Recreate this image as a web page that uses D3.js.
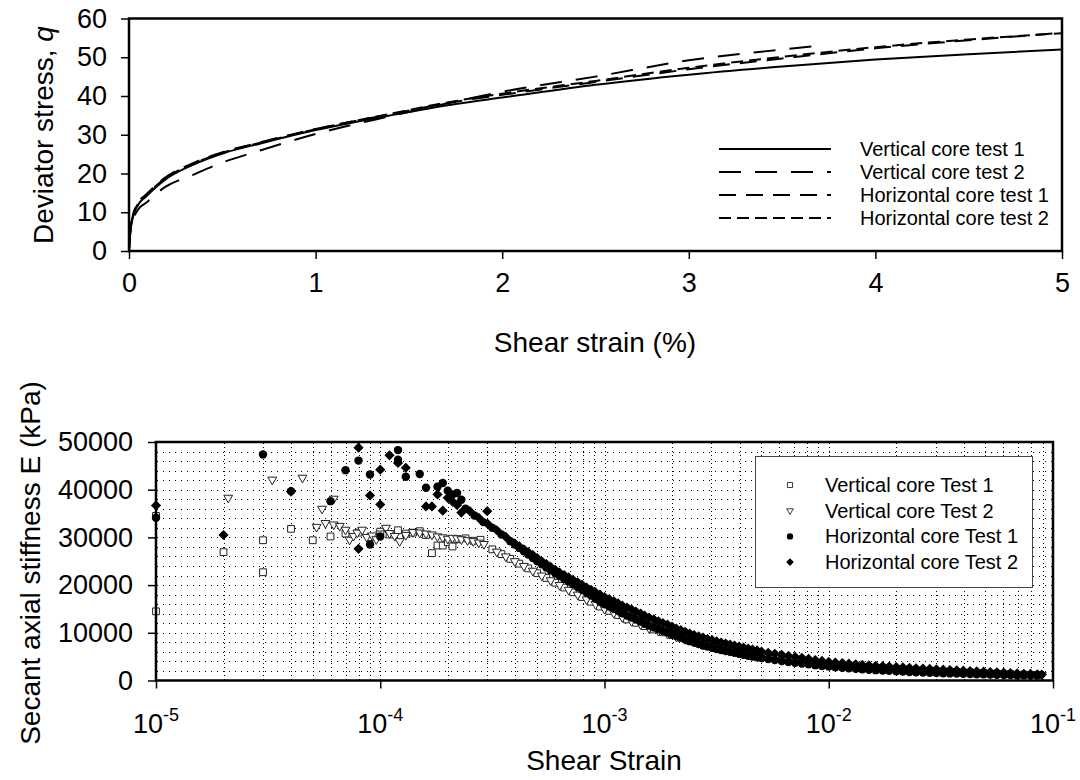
<!DOCTYPE html>
<html>
<head>
<meta charset="utf-8">
<script src="https://cdn.jsdelivr.net/npm/d3@7"></script>
<style>
  body { margin: 0; background: #fff; }
  svg { font-family: "Liberation Sans", Arial, sans-serif; }
</style>
</head>
<body>
<div id="chart"></div>
<script>
// ---------- top chart data: deviator stress q vs shear strain (%)
const topStrain = [0, 0.005, 0.02, 0.05, 0.09, 0.19, 0.34, 0.51, 0.7, 1.0, 1.4, 1.76, 2.0, 2.5, 3.0, 3.5, 4.0, 4.5, 5.0];
const v1Q = [0, 4, 8.5, 12, 14, 18.3, 22.2, 25.3, 27.7, 31.2, 35, 38, 39.6, 42.9, 45.5, 47.6, 49.4, 50.8, 52];
const h1Q = [0, 4.5, 9, 12.5, 14.5, 18.8, 22.6, 25.6, 28, 31.5, 35.3, 38.6, 40.3, 43.6, 46.9, 49.7, 52.3, 54.4, 56.3];
const h2Q = [0, 4.2, 8.8, 12.3, 14.3, 18.6, 22.4, 25.5, 27.9, 31.4, 35.4, 38.8, 40.6, 43.9, 47.3, 50.1, 52.6, 54.6, 56.2];
const v2Strain = [0, 0.005, 0.02, 0.05, 0.09, 0.19, 0.34, 0.51, 0.7, 1.0, 1.4, 1.76, 2.0, 2.5, 3.0, 3.5, 3.7];
const v2Q = [0, 3.5, 7.5, 10.8, 12.4, 16.4, 19.6, 23, 25.9, 30.2, 34.8, 38.7, 41.1, 45, 49.2, 52, 53];
const topNames = ["Vertical core test 1", "Vertical core test 2", "Horizontal core test 1", "Horizontal core test 2"];
const topTicksY = [0, 10, 20, 30, 40, 50, 60];
const topTicksX = [0, 1, 2, 3, 4, 5];

// ---------- bottom chart data: secant stiffness E (kPa) vs shear strain
const vt1Strain = [1e-5, 1e-5, 2e-5, 3e-5, 3e-5, 4e-5, 5e-5, 6e-5, 7e-5, 8e-5, 9e-5, 1e-4, 1.1e-4, 1.2e-4, 1.3e-4, 1.4e-4, 1.5e-4, 1.6e-4, 1.7e-4, 1.8e-4, 1.9e-4, 2.0e-4, 2.1e-4, 2.2e-4, 2.4e-4, 2.6e-4, 2.8e-4,
  3.16e-4, 3.47e-4, 3.80e-4, 4.17e-4, 4.57e-4, 5.01e-4, 5.50e-4, 6.03e-4, 6.61e-4, 7.24e-4, 7.94e-4, 8.71e-4, 9.55e-4, 1.05e-3, 1.15e-3, 1.26e-3, 1.38e-3, 1.51e-3, 1.66e-3, 1.82e-3, 2.00e-3, 2.19e-3, 2.40e-3, 2.63e-3, 2.88e-3, 3.16e-3, 3.47e-3, 3.80e-3, 4.17e-3, 4.57e-3, 5.01e-3,
  5.37e-3, 6.17e-3, 7.08e-3, 8.13e-3, 9.33e-3, 1.07e-2, 1.23e-2, 1.41e-2, 1.62e-2, 1.86e-2, 2.14e-2, 2.45e-2, 2.82e-2, 3.24e-2, 3.72e-2, 4.27e-2, 4.90e-2, 5.62e-2, 6.46e-2, 7.41e-2, 8.51e-2];
const vt1E = [14500, 34500, 26900, 29400, 22700, 31800, 29400, 30200, 30800, 31000, 30000, 31200, 30600, 31500, 30800, 31000, 31300, 30500, 26700, 28300, 28300, 29000, 28100, 29600, 29800, 29300, 29500,
  27500, 26500, 25500, 24500, 23500, 22500, 21500, 20500, 19500, 18500, 17500, 16500, 15500, 14600, 13700, 12800, 12100, 11400, 10700, 10100, 9500, 8950, 8400, 7850, 7350, 6900, 6500, 6150, 5800, 5500, 5200,
  5000, 4570, 4200, 3840, 3480, 3200, 2990, 2780, 2570, 2430, 2270, 2120, 2000, 1880, 1760, 1650, 1550, 1450, 1330, 1240, 1150];

const vt2Strain = [2.1e-5, 3.3e-5, 4.5e-5, 5.2e-5, 5.5e-5, 5.7e-5, 6.2e-5, 6.2e-5, 6.6e-5, 7.0e-5, 7.3e-5, 7.6e-5, 7.9e-5, 8.3e-5, 8.7e-5, 9.2e-5, 9.6e-5, 1.0e-4, 1.06e-4, 1.1e-4, 1.16e-4, 1.22e-4, 1.3e-4, 1.4e-4, 1.5e-4, 1.6e-4, 1.7e-4, 1.8e-4, 1.9e-4, 2.0e-4, 2.1e-4, 2.2e-4, 2.3e-4, 2.45e-4, 2.6e-4, 2.75e-4, 2.9e-4,
  3.31e-4, 3.63e-4, 3.98e-4, 4.37e-4, 4.79e-4, 5.25e-4, 5.75e-4, 6.31e-4, 6.92e-4, 7.59e-4, 8.32e-4, 9.12e-4, 1.00e-3, 1.10e-3, 1.20e-3, 1.32e-3, 1.45e-3, 1.58e-3, 1.74e-3, 1.91e-3, 2.09e-3, 2.29e-3, 2.51e-3, 2.75e-3, 3.02e-3, 3.31e-3, 3.63e-3, 3.98e-3, 4.37e-3, 4.79e-3,
  5.75e-3, 6.61e-3, 7.59e-3, 8.71e-3, 1.00e-2, 1.15e-2, 1.32e-2, 1.51e-2, 1.74e-2, 2.00e-2, 2.29e-2, 2.63e-2, 3.02e-2, 3.47e-2, 3.98e-2, 4.57e-2, 5.25e-2, 6.03e-2, 6.92e-2, 7.94e-2, 8.91e-2];
const vt2E = [38300, 42100, 42500, 32200, 36000, 33000, 38100, 32700, 32400, 31600, 29500, 30300, 31000, 31600, 30100, 30400, 29600, 30800, 32000, 30900, 30300, 29200, 30500, 31100, 31000, 30800, 30600, 30200, 30000, 29700, 29900, 29800, 29600, 29400, 29200, 28900, 28600,
  27000, 26000, 25000, 24000, 23000, 22000, 21000, 20000, 19000, 18000, 17000, 16000, 15000, 14150, 13250, 12450, 11750, 11000, 10400, 9800, 9200, 8650, 8100, 7600, 7150, 6700, 6300, 5950, 5650, 5350,
  4700, 4350, 4000, 3650, 3300, 3090, 2880, 2670, 2500, 2350, 2200, 2050, 1940, 1820, 1700, 1600, 1500, 1380, 1280, 1200, 1150];

const ht1Strain = [1e-5, 3e-5, 4e-5, 6e-5, 7e-5, 8e-5, 9e-5, 9e-5, 1e-4, 1.2e-4, 1.2e-4, 1.3e-4, 1.5e-4, 1.6e-4, 1.8e-4, 1.9e-4, 2.0e-4, 2.1e-4, 2.2e-4, 2.3e-4,
  2.40e-4, 2.63e-4, 2.88e-4, 3.16e-4, 3.47e-4, 3.80e-4, 4.17e-4, 4.57e-4, 5.01e-4, 5.50e-4, 6.03e-4, 6.61e-4, 7.24e-4, 7.94e-4, 8.71e-4, 9.55e-4, 1.05e-3, 1.15e-3, 1.26e-3, 1.38e-3, 1.51e-3, 1.66e-3, 1.82e-3, 2.00e-3, 2.19e-3, 2.40e-3, 2.63e-3, 2.88e-3, 3.16e-3, 3.47e-3, 3.80e-3, 4.17e-3, 4.57e-3, 5.01e-3,
  3.98e-4, 4.37e-4, 4.79e-4, 5.25e-4, 5.75e-4, 6.31e-4, 6.92e-4, 7.59e-4, 8.32e-4, 9.12e-4, 1.00e-3, 1.10e-3, 1.20e-3, 1.32e-3, 1.45e-3, 1.58e-3, 1.74e-3, 1.91e-3, 2.09e-3, 2.29e-3, 2.51e-3, 2.75e-3, 3.02e-3, 3.31e-3, 3.63e-3, 3.98e-3, 4.37e-3, 4.79e-3,
  5.37e-3, 5.75e-3, 6.17e-3, 6.61e-3, 7.08e-3, 7.59e-3, 8.13e-3, 8.71e-3, 9.33e-3, 1.00e-2, 1.07e-2, 1.15e-2, 1.23e-2, 1.32e-2, 1.41e-2, 1.51e-2, 1.62e-2, 1.74e-2, 1.86e-2, 2.00e-2, 2.14e-2, 2.29e-2, 2.45e-2, 2.63e-2, 2.82e-2,
  3.02e-2, 3.24e-2, 3.47e-2, 3.72e-2, 3.98e-2, 4.27e-2, 4.57e-2, 4.90e-2, 5.25e-2, 5.62e-2, 6.03e-2, 6.46e-2, 6.92e-2, 7.41e-2, 7.94e-2, 8.51e-2];
const ht1E = [34100, 47400, 39700, 37600, 44100, 46100, 43200, 28500, 30200, 48300, 46300, 42700, 43300, 40400, 40600, 41400, 39800, 39000, 39300, 37900,
  36000, 34600, 33200, 32000, 30600, 29200, 27800, 26400, 25000, 23700, 22500, 21300, 20200, 19000, 17800, 16500, 15500, 14600, 13600, 12800, 11900, 11100, 10400, 9700, 9000, 8250, 7650, 7100, 6600, 6200, 5800, 5400, 5050, 4700,
  28500, 27100, 25700, 24350, 23100, 21900, 20750, 19600, 18400, 17150, 16000, 15050, 14100, 13200, 12350, 11500, 10750, 10050, 9350, 8600, 7950, 7350, 6850, 6400, 6000, 5600, 5200, 4870,
  4500, 4280, 4070, 3890, 3720, 3560, 3400, 3220, 3050, 2920, 2800, 2690, 2580, 2470, 2370, 2270, 2170, 2090, 2020, 1940, 1870, 1790, 1720, 1670, 1630,
  1580, 1530, 1490, 1450, 1400, 1360, 1320, 1290, 1250, 1210, 1170, 1140, 1120, 1100, 1080, 1060];

const ht2Strain = [1e-5, 2e-5, 4e-5, 8e-5, 8e-5, 9e-5, 1e-4, 1e-4, 1.1e-4, 1.2e-4, 1.3e-4, 1.6e-4, 1.7e-4, 1.8e-4, 1.9e-4, 2.0e-4, 2.1e-4, 2.2e-4, 2.3e-4, 3.0e-4,
  2.51e-4, 2.75e-4, 3.02e-4, 3.31e-4, 3.63e-4, 3.98e-4, 4.37e-4, 4.79e-4, 5.25e-4, 5.75e-4, 6.31e-4, 6.92e-4, 7.59e-4, 8.32e-4, 9.12e-4, 1.00e-3, 1.10e-3, 1.20e-3, 1.32e-3, 1.45e-3, 1.58e-3, 1.74e-3, 1.91e-3, 2.09e-3, 2.29e-3, 2.51e-3, 2.75e-3, 3.02e-3, 3.31e-3, 3.63e-3, 3.98e-3, 4.37e-3, 4.79e-3,
  4.17e-4, 4.57e-4, 5.01e-4, 5.50e-4, 6.03e-4, 6.61e-4, 7.24e-4, 7.94e-4, 8.71e-4, 9.55e-4, 1.05e-3, 1.15e-3, 1.26e-3, 1.38e-3, 1.51e-3, 1.66e-3, 1.82e-3, 2.00e-3, 2.19e-3, 2.40e-3, 2.63e-3, 2.88e-3, 3.16e-3, 3.47e-3, 3.80e-3, 4.17e-3, 4.57e-3, 5.01e-3,
  5.37e-3, 5.75e-3, 6.17e-3, 6.61e-3, 7.08e-3, 7.59e-3, 8.13e-3, 8.71e-3, 9.33e-3, 1.00e-2, 1.07e-2, 1.15e-2, 1.23e-2, 1.32e-2, 1.41e-2, 1.51e-2, 1.62e-2, 1.74e-2, 1.86e-2, 2.00e-2, 2.14e-2, 2.29e-2, 2.45e-2, 2.63e-2, 2.82e-2,
  3.02e-2, 3.24e-2, 3.47e-2, 3.72e-2, 3.98e-2, 4.27e-2, 4.57e-2, 4.90e-2, 5.25e-2, 5.62e-2, 6.03e-2, 6.46e-2, 6.92e-2, 7.41e-2, 7.94e-2, 8.51e-2, 8.91e-2];
const ht2E = [36700, 30500, 39600, 48800, 27600, 38800, 36900, 44200, 47200, 45600, 44600, 36500, 36500, 39000, 35600, 38300, 37500, 36800, 35200, 35500,
  35500, 34100, 32800, 31500, 30100, 28700, 27500, 26300, 25000, 23800, 22600, 21600, 20600, 19500, 18500, 17500, 16600, 15700, 14900, 14000, 13200, 12400, 11700, 10900, 10200, 9500, 9000, 8450, 7950, 7550, 7100, 6700, 6300,
  28100, 26900, 25650, 24400, 23200, 22100, 21100, 20050, 19000, 18000, 17050, 16150, 15300, 14450, 13600, 12800, 12050, 11300, 10550, 9850, 9250, 8700, 8200, 7750, 7300, 6900, 6500, 6050,
  5800, 5600, 5380, 5150, 4950, 4750, 4520, 4300, 4100, 3900, 3770, 3650, 3520, 3400, 3290, 3180, 3090, 3000, 2910, 2830, 2740, 2650, 2570, 2500, 2420,
  2350, 2270, 2200, 2120, 2050, 1980, 1920, 1850, 1780, 1710, 1650, 1560, 1480, 1420, 1370, 1300, 1250];

const botNames = ["Vertical core Test 1", "Vertical core Test 2", "Horizontal core Test 1", "Horizontal core Test 2"];
const botTicksY = [0, 10000, 20000, 30000, 40000, 50000];
const botDecades = [1e-5, 1e-4, 1e-3, 1e-2, 1e-1];

const width = 1080, height = 780;
const svg = d3.select("#chart").append("svg")
  .attr("width", width)
  .attr("height", height);

//----- top chart
const xTop = d3.scaleLinear().domain([0, 5]).range([129, 1062]);
const yTop = d3.scaleLinear().domain([0, 60]).range([251, 18.5]);

svg.append("clipPath").attr("id", "clipTop")
  .append("rect").attr("x", 129).attr("y", 18.5).attr("width", 933).attr("height", 232.5);

const topSeries = [
  { name: topNames[0], xs: topStrain, ys: v1Q, dash: null },
  { name: topNames[1], xs: v2Strain, ys: v2Q, dash: "22,14" },
  { name: topNames[2], xs: topStrain, ys: h1Q, dash: "17,10" },
  { name: topNames[3], xs: topStrain, ys: h2Q, dash: "12,6" }
];

const line = d3.line()
  .x(d => xTop(d[0]))
  .y(d => yTop(d[1]))
  .curve(d3.curveMonotoneX);

svg.append("g").attr("clip-path", "url(#clipTop)")
  .selectAll("path")
  .data(topSeries)
  .join("path")
  .attr("d", s => line(s.xs.map((x, i) => [x, s.ys[i]])))
  .attr("fill", "none")
  .attr("stroke", "#000")
  .attr("stroke-width", 2)
  .attr("stroke-dasharray", s => s.dash);

const yAxisTop = svg.append("g")
  .attr("transform", "translate(129,0)")
  .call(d3.axisLeft(yTop).tickValues(topTicksY).tickSize(8).tickPadding(14));
const xAxisTop = svg.append("g")
  .attr("transform", "translate(0,251)")
  .call(d3.axisBottom(xTop).tickValues(topTicksX).tickSize(8).tickPadding(14).tickFormat(d3.format("d")));

[yAxisTop, xAxisTop].forEach(g => {
  g.select(".domain").remove();
  g.selectAll("line").attr("stroke", "#000").attr("stroke-width", 1.5);
  g.selectAll("text").attr("font-size", 27).attr("fill", "#000")
    .attr("font-family", "'Liberation Sans', Arial, sans-serif");
});

svg.append("rect")
  .attr("x", 129).attr("y", 18.5).attr("width", 933).attr("height", 232.5)
  .attr("fill", "none").attr("stroke", "#000").attr("stroke-width", 2.5);

// axis titles
const yTitleTop = svg.append("text")
  .attr("transform", "translate(43,135) rotate(-90)")
  .attr("text-anchor", "middle")
  .attr("dominant-baseline", "central")
  .attr("font-size", 28);
yTitleTop.append("tspan").text("Deviator stress, ");
yTitleTop.append("tspan").attr("font-style", "italic").text("q");

svg.append("text")
  .attr("x", 595).attr("y", 352)
  .attr("text-anchor", "middle")
  .attr("font-size", 28)
  .text("Shear strain (%)");

// top legend
const legTop = svg.append("g");
topSeries.forEach((s, i) => {
  const y = 149 + i * 23;
  legTop.append("line")
    .attr("x1", 719).attr("x2", 831).attr("y1", y).attr("y2", y)
    .attr("stroke", "#000").attr("stroke-width", 1.8)
    .attr("stroke-dasharray", s.dash);
  legTop.append("text")
    .attr("x", 860).attr("y", y)
    .attr("dominant-baseline", "central")
    .attr("font-size", 20)
    .text(s.name);
});

//----- bottom chart
const xBot = d3.scaleLog().domain([1e-5, 1e-1]).range([156, 1053]);
const yBot = d3.scaleLinear().domain([0, 50000]).range([680.5, 442]);

// dotted grid
const grid = svg.append("g").attr("shape-rendering", "crispEdges");
grid.selectAll("line.h")
  .data(d3.range(2000, 50000, 2000))
  .join("line")
  .attr("class", "h")
  .attr("x1", 157).attr("x2", 1052)
  .attr("y1", d => Math.round(yBot(d)) + 0.5)
  .attr("y2", d => Math.round(yBot(d)) + 0.5)
  .attr("stroke", "#000").attr("stroke-width", 1)
  .attr("stroke-dasharray", "1,5");
grid.selectAll("line.v")
  .data(xBot.ticks().filter(d => d > 1.01e-5 && d < 0.099))
  .join("line")
  .attr("class", "v")
  .attr("y1", 443).attr("y2", 680)
  .attr("x1", d => Math.round(xBot(d)) + 0.5)
  .attr("x2", d => Math.round(xBot(d)) + 0.5)
  .attr("stroke", "#000").attr("stroke-width", 1)
  .attr("stroke-dasharray", "1,3");

const symSquare = d3.symbol().type(d3.symbolSquare).size(46)();
const symTri = d3.symbol().type(d3.symbolTriangle).size(34)();
const symCircle = d3.symbol().type(d3.symbolCircle).size(56)();
const symDiamond = d3.symbol().type(d3.symbolSquare).size(52)();

const botSeries = [
  { name: botNames[0], xs: vt1Strain, ys: vt1E, path: symSquare, rot: 0, fill: "#fff", stroke: "#222" },
  { name: botNames[1], xs: vt2Strain, ys: vt2E, path: symTri, rot: 180, fill: "#fff", stroke: "#222" },
  { name: botNames[2], xs: ht1Strain, ys: ht1E, path: symCircle, rot: 0, fill: "#000", stroke: "none" },
  { name: botNames[3], xs: ht2Strain, ys: ht2E, path: symDiamond, rot: 45, fill: "#000", stroke: "none" }
];

svg.append("clipPath").attr("id", "clipBot")
  .append("rect").attr("x", 148).attr("y", 436).attr("width", 910).attr("height", 250);

const pts = svg.append("g").attr("clip-path", "url(#clipBot)");
botSeries.forEach(s => {
  pts.append("g")
    .selectAll("path")
    .data(s.xs.map((x, i) => [x, s.ys[i]]))
    .join("path")
    .attr("d", s.path)
    .attr("transform", d => `translate(${xBot(d[0])},${yBot(d[1])}) rotate(${s.rot})`)
    .attr("fill", s.fill)
    .attr("stroke", s.stroke)
    .attr("stroke-width", 1);
});

const yAxisBot = svg.append("g")
  .attr("transform", "translate(156,0)")
  .call(d3.axisLeft(yBot).tickValues(botTicksY).tickSize(8).tickPadding(15).tickFormat(d3.format("d")));
const xAxisBot = svg.append("g")
  .attr("transform", "translate(0,680.5)")
  .call(d3.axisBottom(xBot).tickValues(botDecades).tickSize(8).tickFormat(""));

[yAxisBot, xAxisBot].forEach(g => {
  g.select(".domain").remove();
  g.selectAll("line").attr("stroke", "#000").attr("stroke-width", 1.5);
  g.selectAll("text").attr("font-size", 27).attr("fill", "#000")
    .attr("font-family", "'Liberation Sans', Arial, sans-serif");
});

// decade labels with superscript exponents
const decLabels = svg.append("g");
botDecades.forEach(v => {
  const t = decLabels.append("text")
    .attr("x", xBot(v)).attr("y", 733)
    .attr("text-anchor", "middle")
    .attr("font-size", 27);
  t.append("tspan").text("10");
  t.append("tspan").attr("font-size", 18).attr("dy", -12).text(String(Math.round(Math.log10(v))));
});

svg.append("rect")
  .attr("x", 156).attr("y", 442).attr("width", 897).attr("height", 238.5)
  .attr("fill", "none").attr("stroke", "#000").attr("stroke-width", 2.5);

svg.append("text")
  .attr("transform", "translate(30,563) rotate(-90)")
  .attr("text-anchor", "middle")
  .attr("dominant-baseline", "central")
  .attr("font-size", 28)
  .text("Secant axial stiffness E (kPa)");

svg.append("text")
  .attr("x", 604).attr("y", 770)
  .attr("text-anchor", "middle")
  .attr("font-size", 28)
  .text("Shear Strain");

// bottom legend
const legBot = svg.append("g");
legBot.append("rect")
  .attr("x", 755.5).attr("y", 456.5).attr("width", 277).attr("height", 131)
  .attr("fill", "#fff").attr("stroke", "#444").attr("stroke-width", 1);
botSeries.forEach((s, i) => {
  const y = 485 + i * 25.7;
  legBot.append("path")
    .attr("d", s.path)
    .attr("transform", `translate(790,${y}) rotate(${s.rot}) scale(0.75)`)
    .attr("fill", s.fill)
    .attr("stroke", s.stroke)
    .attr("stroke-width", 1.2);
  legBot.append("text")
    .attr("x", 825).attr("y", y)
    .attr("dominant-baseline", "central")
    .attr("font-size", 20)
    .text(s.name);
});
</script>
</body>
</html>
